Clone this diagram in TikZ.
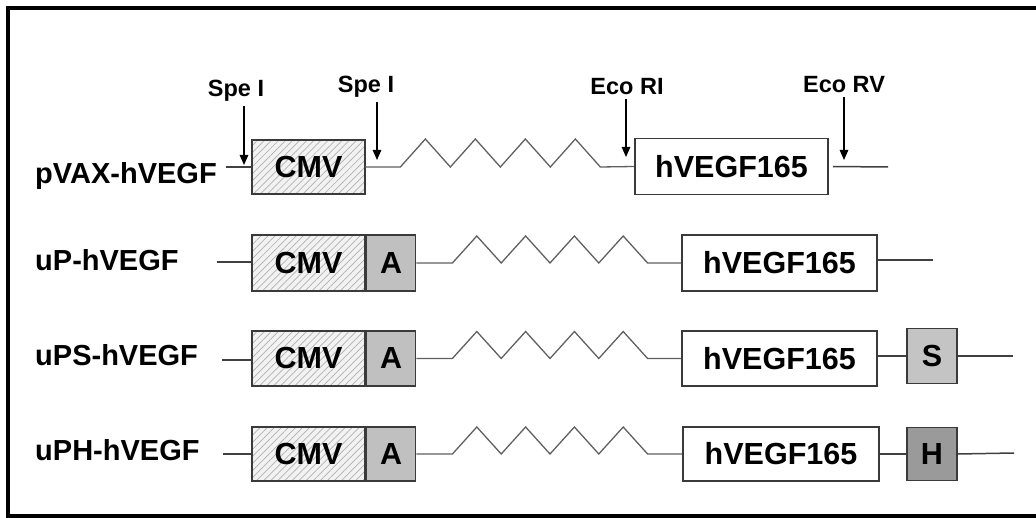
\documentclass[tikz,border=0pt]{standalone}
\usepackage{fontspec}
\setmainfont{Liberation Sans}
\usetikzlibrary{arrows.meta,patterns.meta}
\definecolor{boxline}{HTML}{3A3A3A}
\definecolor{wire}{HTML}{404040}
\definecolor{zig}{HTML}{606060}
\definecolor{hatchbg}{HTML}{F2F2F2}
\definecolor{hatchln}{HTML}{B0B0B0}
\definecolor{afill}{HTML}{C0C0C0}
\definecolor{sfill}{HTML}{C4C4C4}
\definecolor{hfill}{HTML}{9A9A9A}
\tikzset{
  part/.style={draw=boxline, line width=1.6pt, inner sep=0pt, minimum height=56pt,
    font=\fontsize{30.5}{36}\selectfont\bfseries},
  cmvbox/.style={part, minimum width=113pt, preaction={fill=hatchbg},
    pattern={Lines[angle=45,distance=5pt,line width=0.7pt]}, pattern color=hatchln},
  abox/.style={part, minimum width=49pt, fill=afill},
  genebox/.style={part, fill=white},
  sbox/.style={part, minimum width=50pt, minimum height=55pt, fill=sfill},
  hbox/.style={part, minimum width=50pt, minimum height=53pt, fill=hfill},
  rowlabel/.style={anchor=base west, inner sep=0pt, font=\fontsize{29}{34}\selectfont\bfseries},
  sitelabel/.style={inner sep=0pt, font=\fontsize{23.5}{28}\selectfont\bfseries},
  wireline/.style={draw=wire, line width=1.5pt},
  zigline/.style={draw=zig, line width=1.3pt, line join=miter},
  arr/.style={draw=black, line width=1.2pt, -{Triangle[width=8.5pt,length=10pt]}, shorten <=4pt}
}
\begin{document}
\begin{tikzpicture}[x=1pt,y=-1pt]
\useasboundingbox (0,0) rectangle (1036,518);
% frame
\draw[line width=3.5pt, line join=miter] (1036,8) -- (8,8) -- (8,516) -- (1036,516);

% ---------- row 1: pVAX-hVEGF ----------
\node[rowlabel] (l1) at (35,184) {pVAX-hVEGF};
\node[cmvbox, minimum height=54pt] (cmv1) at (308.5,167) {CMV};
\node[genebox, minimum width=193pt] (hv1) at (731.5,166.5) {hVEGF165};
\coordinate (s1) at (226,167);
\coordinate (e1) at (888,167);
\draw[wireline] (s1) -- (cmv1.west);
\draw[zigline] (cmv1.east) -- ++(35,0)
  -- ++(25,-28) -- ++(25,28) -- ++(25,-28) -- ++(25,28)
  -- ++(25,-28) -- ++(25,28) -- ++(25,-28) -- ++(25,28) -- (hv1.west);
\draw[wireline] ([xshift=4pt]hv1.east) -- (e1);

\node[sitelabel] (spe1) at (236,91) {Spe I};
\node[sitelabel] (spe2) at (366,87) {Spe I};
\node[sitelabel] (ecori) at (627,87) {Eco RI};
\node[sitelabel] (ecorv) at (844,85) {Eco RV};
\coordinate (t1) at (244,165);
\coordinate (t2) at (377,160);
\coordinate (t3) at (626,157);
\coordinate (t4) at (844,160);
\draw[arr] (spe1.south -| t1) -- (t1);
\draw[arr] (spe2.south -| t2) -- (t2);
\draw[arr] (ecori.south -| t3) -- (t3);
\draw[arr] (ecorv.south -| t4) -- (t4);

% ---------- row 2: uP-hVEGF ----------
\node[rowlabel] (l2) at (35,271) {uP-hVEGF};
\node[cmvbox] (cmv2) at (308.5,263) {CMV};
\node[abox, anchor=west] (a2) at (cmv2.east) {A};
\node[genebox, minimum width=195pt] (hv2) at (779.5,263) {hVEGF165};
\coordinate (s2) at (217,262);
\coordinate (e2) at (933,260);
\draw[wireline] (s2) -- (s2 -| cmv2.west);
\draw[zigline] (a2.east) -- ++(36,0)
  -- ++(24.4,-27) -- ++(24.4,27) -- ++(24.4,-27) -- ++(24.4,27)
  -- ++(24.4,-27) -- ++(24.4,27) -- ++(24.4,-27) -- ++(24.4,27) -- (hv2.west);
\draw[wireline] (hv2.east |- e2) -- (e2);

% ---------- row 3: uPS-hVEGF ----------
\node[rowlabel] (l3) at (35,366) {uPS-hVEGF};
\node[cmvbox, minimum height=55pt] (cmv3) at (308.5,358.5) {CMV};
\node[abox, minimum height=55pt, anchor=west] (a3) at (cmv3.east) {A};
\node[genebox, minimum width=195pt, minimum height=55pt] (hv3) at (779.5,358.5) {hVEGF165};
\node[sbox] (sb) at (932,356) {S};
\coordinate (s3) at (222,360);
\coordinate (e3) at (1013,356);
\draw[wireline] (s3) -- (s3 -| cmv3.west);
\draw[zigline] (a3.east) -- ++(36,0)
  -- ++(24.4,-27) -- ++(24.4,27) -- ++(24.4,-27) -- ++(24.4,27)
  -- ++(24.4,-27) -- ++(24.4,27) -- ++(24.4,-27) -- ++(24.4,27) -- (hv3.west);
\draw[wireline] (hv3.east |- sb.west) -- (sb.west);
\draw[wireline] (sb.east) -- (e3);

% ---------- row 4: uPH-hVEGF ----------
\node[rowlabel] (l4) at (35,460) {uPH-hVEGF};
\node[cmvbox, minimum height=54pt] (cmv4) at (308.5,454) {CMV};
\node[abox, minimum height=54pt, anchor=west] (a4) at (cmv4.east) {A};
\node[genebox, minimum width=196pt, minimum height=54pt] (hv4) at (781,454) {hVEGF165};
\node[hbox] (hb) at (932,454) {H};
\coordinate (s4) at (223,454);
\coordinate (e4) at (1014,453);
\draw[wireline] (s4) -- (cmv4.west);
\draw[zigline] (a4.east) -- ++(36,0)
  -- ++(24.4,-27) -- ++(24.4,27) -- ++(24.4,-27) -- ++(24.4,27)
  -- ++(24.4,-27) -- ++(24.4,27) -- ++(24.4,-27) -- ++(24.4,27) -- (hv4.west);
\draw[wireline] (hv4.east) -- (hb.west);
\draw[wireline] (hb.east) -- (e4);
\end{tikzpicture}
\end{document}
